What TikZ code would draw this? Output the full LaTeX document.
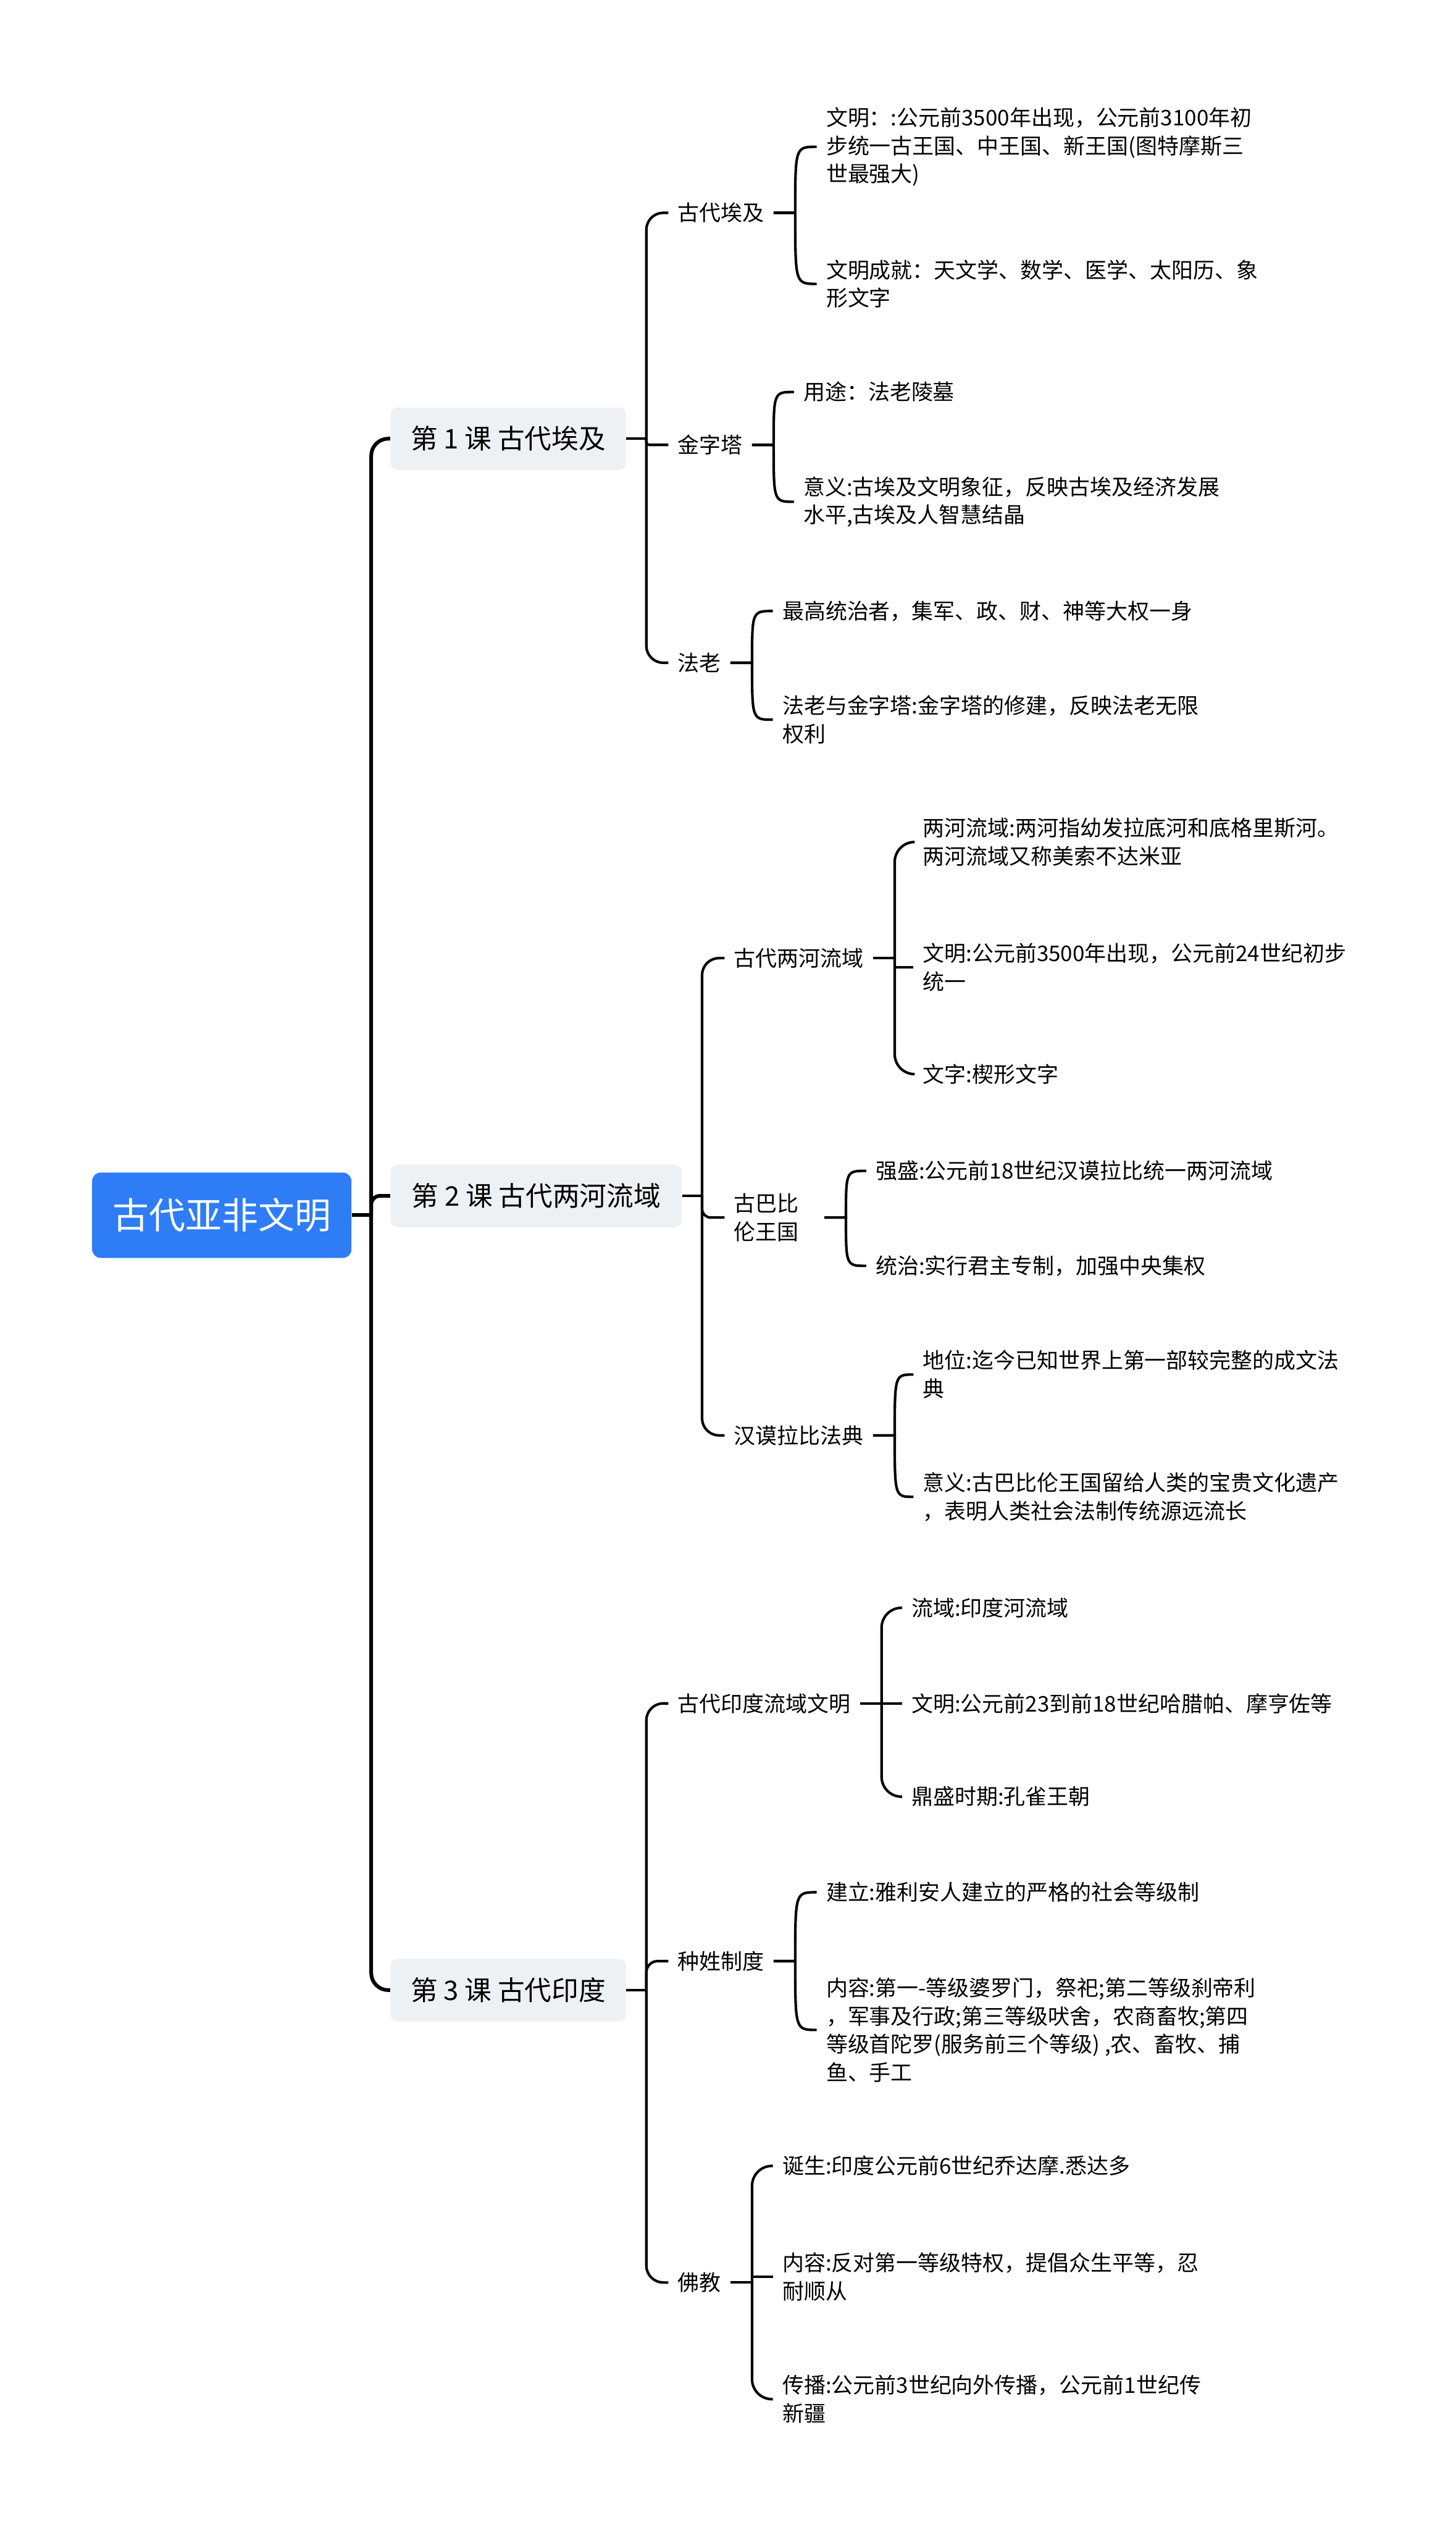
\documentclass[tikz,border=0pt]{standalone}
\usepackage{fontspec}
\setmainfont{Noto Sans CJK SC}
\usetikzlibrary{positioning,calc}
\definecolor{RootBlue}{HTML}{2F7CF7}
\definecolor{LessonGray}{HTML}{EEF1F4}
\tikzset{
  root node/.style={fill=RootBlue,text=white,rounded corners=0.15cm,
    minimum width=4.56cm,minimum height=1.50cm,inner sep=0pt,
    font=\fontsize{18.2}{22}\selectfont},
  lesson node/.style={anchor=west,fill=LessonGray,rounded corners=0.12cm,
    minimum height=1.10cm,inner sep=0pt,font=\fontsize{13.5}{16}\selectfont},
  topic node/.style={anchor=west,align=left,inner xsep=0.16cm,inner ysep=0.04cm,
    font=\fontsize{10.8}{14.1}\selectfont},
  leaf node/.style={anchor=west,align=left,inner xsep=0.16cm,inner ysep=0.04cm,
    font=\fontsize{10.8}{14.1}\selectfont},
  trunk line/.style={draw=black,line width=0.065cm,rounded corners=0.3cm},
  branch line/.style={draw=black,line width=0.045cm,rounded corners=0.3cm},
  twig line/.style={draw=black,line width=0.045cm},
  fork line/.style={draw=black,line width=0.045cm,rounded corners=0.35cm}
}
\begin{document}
\begin{tikzpicture}
  \useasboundingbox (0,0) rectangle (25.60,-44.47);
  % root and lessons
  \node[root node] (root) at (3.90,-21.36) {古代亚非文明};
  \node[lesson node,minimum width=4.14cm] (egyptlesson) at (6.86,-7.71) {第 1 课 古代埃及};
  \node[lesson node,minimum width=5.12cm] (mesolesson) at (6.86,-21.02) {第 2 课 古代两河流域};
  \node[lesson node,minimum width=4.14cm] (indialesson) at (6.86,-34.98) {第 3 课 古代印度};
  % topics
  \node[topic node] (egypt) at (11.75,-3.74) {古代埃及};
  \node[topic node] (pyramid) at (11.75,-7.82) {金字塔};
  \node[topic node] (pharaoh) at (11.75,-11.65) {法老};
  \node[topic node] (rivers) at (12.74,-16.84) {古代两河流域};
  \node[topic node,text width=1.42cm] (babylon) at (12.74,-21.40) {古巴比\\伦王国};
  \node[topic node] (hcode) at (12.74,-25.23) {汉谟拉比法典};
  \node[topic node] (indus) at (11.75,-29.94) {古代印度流域文明};
  \node[topic node] (caste) at (11.75,-34.47) {种姓制度};
  \node[topic node] (buddhism) at (11.75,-40.12) {佛教};
  % leaves, lesson 1
  \node[leaf node] (egyptciv) at (14.36,-2.58) {文明：:公元前3500年出现，公元前3100年初\\步统一古王国、中王国、新王国(图特摩斯三\\世最强大)};
  \node[leaf node] (egyptach) at (14.36,-4.99) {文明成就：天文学、数学、医学、太阳历、象\\形文字};
  \node[leaf node] (pyruse) at (13.96,-6.89) {用途：法老陵墓};
  \node[leaf node] (pymean) at (13.96,-8.82) {意义:古埃及文明象征，反映古埃及经济发展\\水平,古埃及人智慧结晶};
  \node[leaf node] (pharpower) at (13.59,-10.74) {最高统治者，集军、政、财、神等大权一身};
  \node[leaf node] (pharpyr) at (13.59,-12.65) {法老与金字塔:金字塔的修建，反映法老无限\\权利};
  % leaves, lesson 2
  \node[leaf node] (riverarea) at (16.06,-14.80) {两河流域:两河指幼发拉底河和底格里斯河。\\两河流域又称美索不达米亚};
  \node[leaf node] (riverciv) at (16.06,-17.00) {文明:公元前3500年出现，公元前24世纪初步\\统一};
  \node[leaf node] (riverscript) at (16.06,-18.88) {文字:楔形文字};
  \node[leaf node] (babpower) at (15.23,-20.58) {强盛:公元前18世纪汉谟拉比统一两河流域};
  \node[leaf node] (babrule) at (15.23,-22.25) {统治:实行君主专制，加强中央集权};
  \node[leaf node] (codestatus) at (16.06,-24.16) {地位:迄今已知世界上第一部较完整的成文法\\典};
  \node[leaf node] (codemean) at (16.06,-26.31) {意义:古巴比伦王国留给人类的宝贵文化遗产\\，表明人类社会法制传统源远流长};
  % leaves, lesson 3
  \node[leaf node] (indusarea) at (15.86,-28.26) {流域:印度河流域};
  \node[leaf node] (indusciv) at (15.86,-29.94) {文明:公元前23到前18世纪哈腊帕、摩亨佐等};
  \node[leaf node] (induspeak) at (15.86,-31.58) {鼎盛时期:孔雀王朝};
  \node[leaf node] (castefound) at (14.36,-33.26) {建立:雅利安人建立的严格的社会等级制};
  \node[leaf node] (castecont) at (14.36,-35.68) {内容:第一-等级婆罗门，祭祀;第二等级刹帝利\\，军事及行政;第三等级吠舍，农商畜牧;第四\\等级首陀罗(服务前三个等级) ,农、畜牧、捕\\鱼、手工};
  \node[leaf node] (budbirth) at (13.59,-38.07) {诞生:印度公元前6世纪乔达摩.悉达多};
  \node[leaf node] (budcont) at (13.59,-40.02) {内容:反对第一等级特权，提倡众生平等，忍\\耐顺从};
  \node[leaf node] (budspread) at (13.59,-42.17) {传播:公元前3世纪向外传播，公元前1世纪传\\新疆};
  % forks on the spines
  \coordinate (rootfork) at ([xshift=0.34cm]root.east);
  \coordinate (egyptfork) at ([xshift=0.35cm]egyptlesson.east);
  \coordinate (mesofork) at ([xshift=0.35cm]mesolesson.east);
  \coordinate (indiafork) at ([xshift=0.35cm]indialesson.east);
  \coordinate (riversfork) at ([xshift=0.38cm]rivers.east);
  \coordinate (indusfork) at ([xshift=0.38cm]indus.east);
  \coordinate (buddhismfork) at ([xshift=0.38cm]buddhism.east);
  % main spine
  \draw[trunk line] (root.east) -- (rootfork);
  \draw[trunk line] (egyptlesson.west) -| (rootfork) |- (indialesson.west);
  \draw[trunk line,rounded corners=0.15cm] (rootfork) |- (mesolesson.west);
  % lesson spines
  \draw[branch line] (egyptlesson.east) -- (egyptfork);
  \draw[branch line] (egypt.west) -| (egyptfork) |- (pharaoh.west);
  \draw[branch line,rounded corners=0.05cm] (egyptfork) |- (pyramid.west);
  \draw[branch line] (mesolesson.east) -- (mesofork);
  \draw[branch line] (rivers.west) -| (mesofork) |- (hcode.west);
  \draw[branch line,rounded corners=0.15cm] (mesofork) |- (babylon.west);
  \draw[branch line] (indialesson.east) -- (indiafork);
  \draw[branch line] (indus.west) -| (indiafork) |- (buddhism.west);
  \draw[branch line,rounded corners=0.2cm] (indiafork) |- (caste.west);
  % two-child brackets
  \foreach \t/\l in {egypt/egyptciv,egypt/egyptach,pyramid/pyruse,pyramid/pymean,
      pharaoh/pharpower,pharaoh/pharpyr,babylon/babpower,babylon/babrule,
      hcode/codestatus,hcode/codemean,caste/castefound,caste/castecont}
    \draw[twig line] (\t.east) -- ++(0.38,0) coordinate (fork)
      .. controls (fork |- \l.west) .. (\l.west);
  % three-child brackets
  \draw[twig line] (rivers.east) -- (riversfork);
  \draw[fork line] (riverarea.west) -| (riversfork) |- (riverscript.west);
  \draw[twig line] (riversfork |- riverciv.west) -- (riverciv.west);
  \draw[twig line] (indus.east) -- (indusfork);
  \draw[fork line] (indusarea.west) -| (indusfork) |- (induspeak.west);
  \draw[twig line] (indusfork) -- (indusciv.west);
  \draw[twig line] (buddhism.east) -- (buddhismfork);
  \draw[fork line] (budbirth.west) -| (buddhismfork) |- (budspread.west);
  \draw[twig line] (buddhismfork |- budcont.west) -- (budcont.west);
\end{tikzpicture}
\end{document}
